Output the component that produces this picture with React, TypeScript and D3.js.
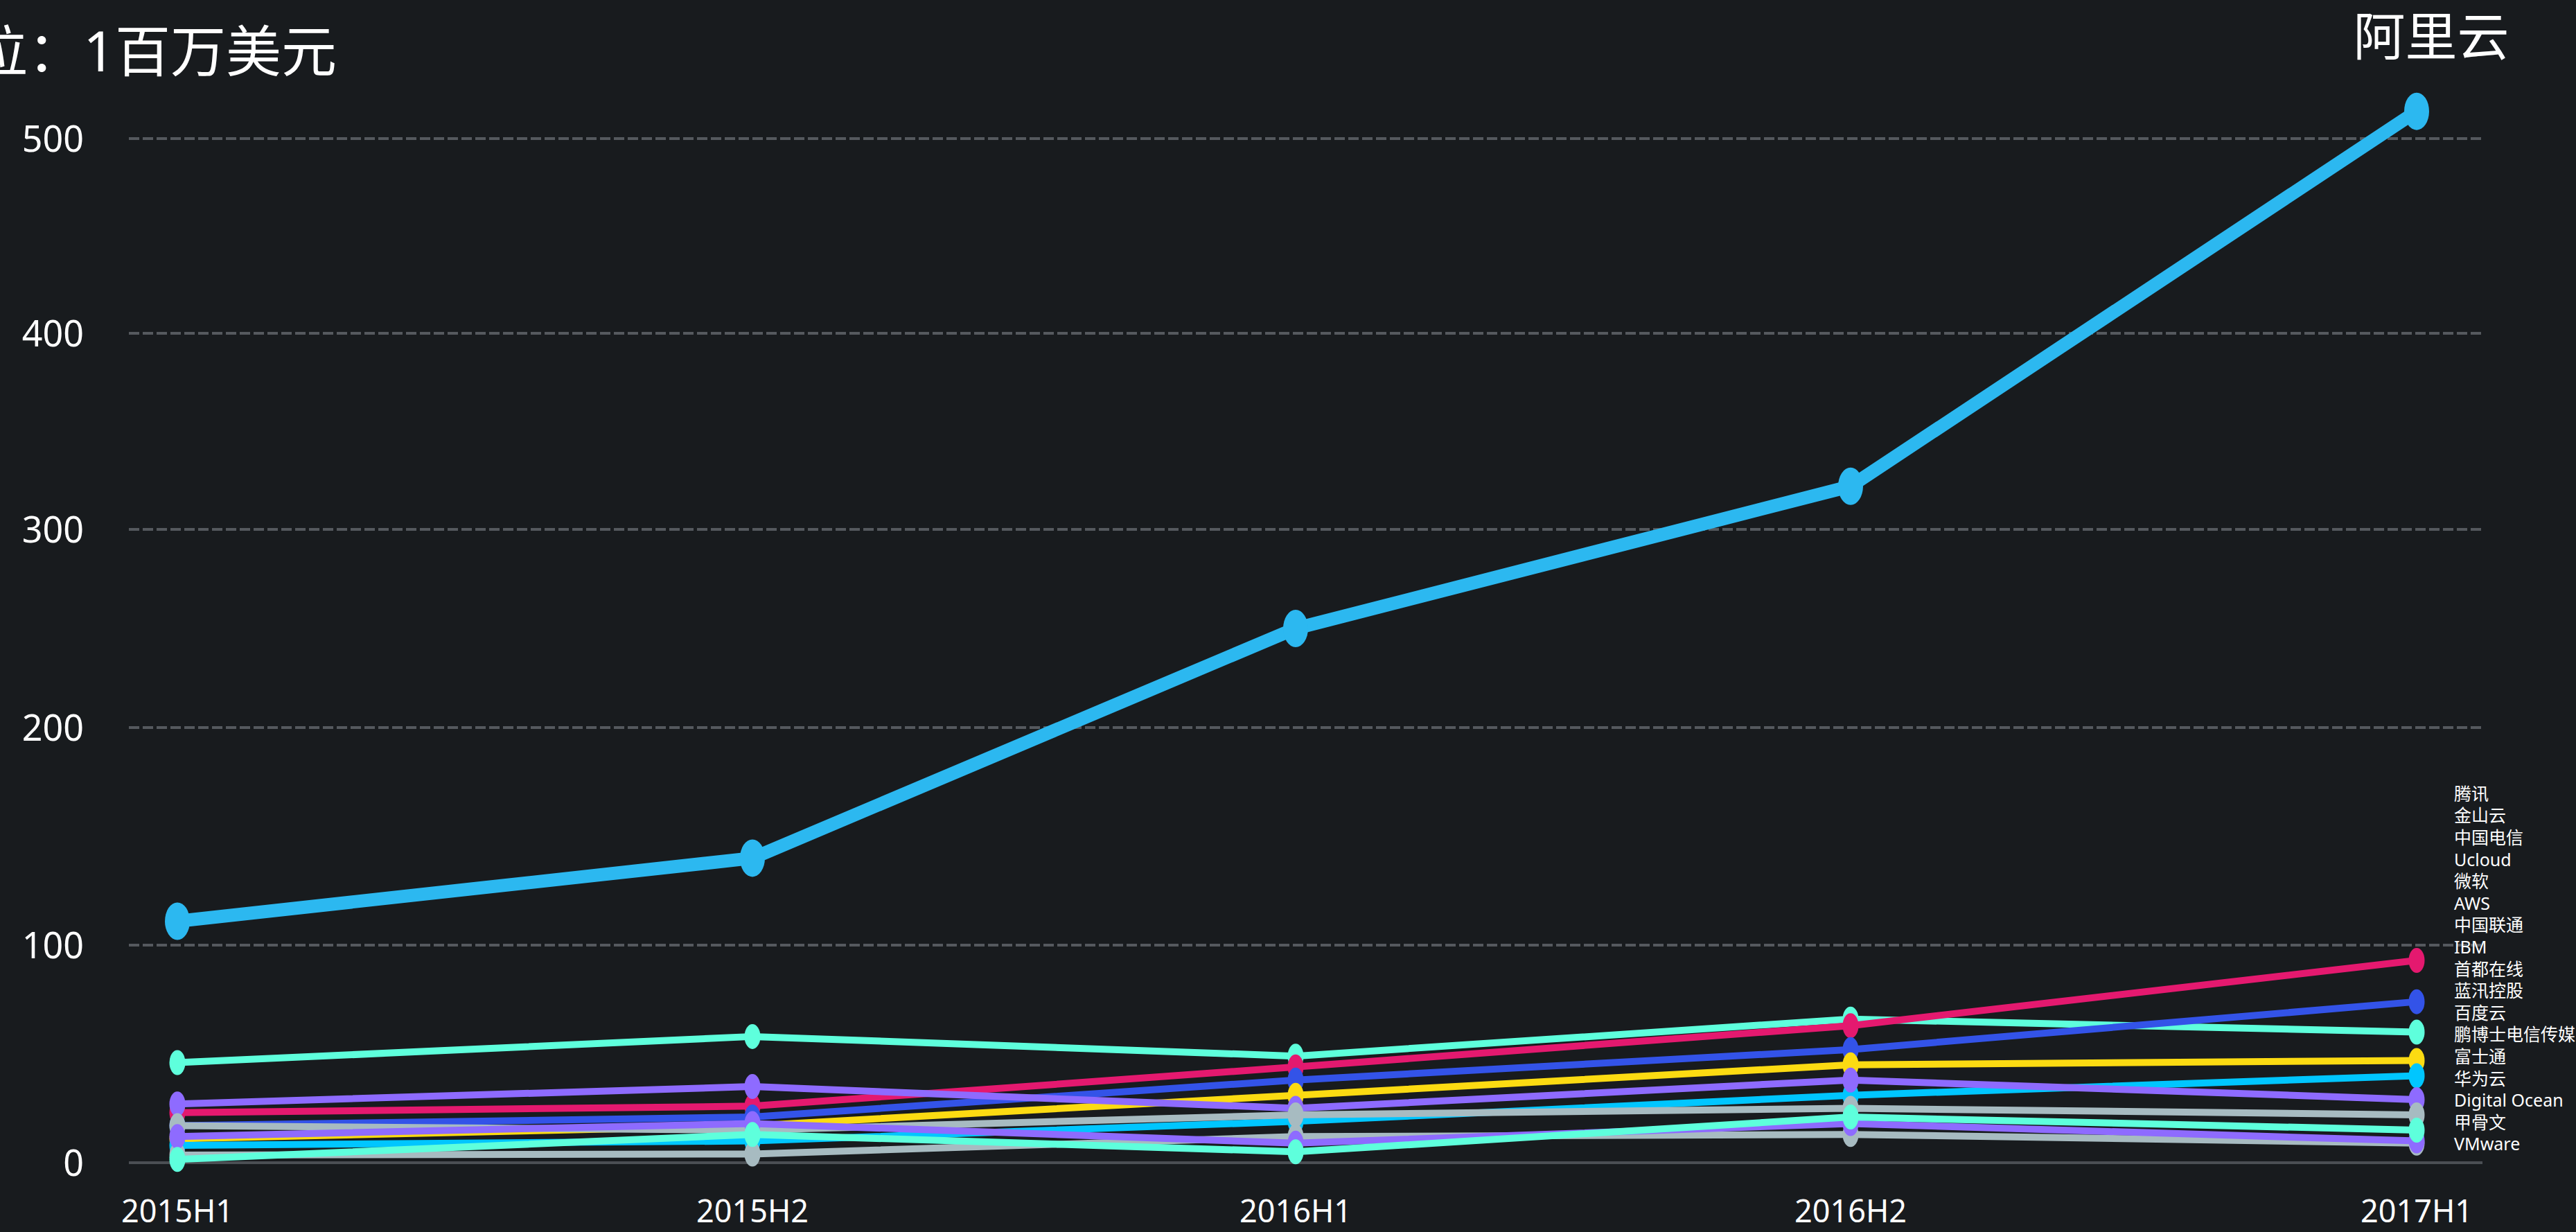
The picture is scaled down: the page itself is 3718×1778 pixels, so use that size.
import * as d3 from "d3";

const periods = ["2015H1", "2015H2", "2016H1", "2016H2", "2017H1"];
const yTicks = [0, 100, 200, 300, 400, 500];

// 阿里云 (thick line)
const aliyun = [111, 140, 250, 322, 514];

// other vendors, unit: 1 million USD
const tencent = [23, 26, 44, 63, 93];
const kingsoft = [17, 21, 38, 52, 74];
const chinaTelecom = [46, 58, 49, 66, 60];
const ucloud = [11, 17, 31, 45, 47];
const microsoft = [8, 10, 19, 31, 40];
const aws = [27, 35, 25, 38, 29];
const chinaUnicom = [17, 15, 22, 25, 22];
const ibm = [1.5, 13, 5, 21, 15];
const capitalOnline = [12, 18, 9, 18, 10];
const chinaCache = [3.5, 4, 12, 13, 9];

const legendNames = [
  "腾讯", "金山云", "中国电信", "Ucloud", "微软", "AWS", "中国联通", "IBM",
  "首都在线", "蓝汛控股", "百度云", "鹏博士电信传媒", "富士通", "华为云",
  "Digital Ocean", "甲骨文", "VMware",
];

// draw order (later on top)
const series = [
  { name: "中国电信", values: chinaTelecom, color: "#5effdc" },
  { name: "腾讯", values: tencent, color: "#e4196f" },
  { name: "金山云", values: kingsoft, color: "#3353e8" },
  { name: "Ucloud", values: ucloud, color: "#fcdb12" },
  { name: "微软", values: microsoft, color: "#00c6ff" },
  { name: "AWS", values: aws, color: "#8e6bff" },
  { name: "中国联通", values: chinaUnicom, color: "#a7bbc1" },
  { name: "蓝汛控股", values: chinaCache, color: "#a7bbc1" },
  { name: "首都在线", values: capitalOnline, color: "#8e6bff" },
  { name: "IBM", values: ibm, color: "#5effdc" },
];

const W = 3718;
const H = 1778;
const font = "'Noto Sans', 'Noto Sans CJK SC', sans-serif";

export default function App() {
  const x = d3
    .scaleLinear()
    .domain(periods.map((_, i) => i))
    .range([256, 1086, 1870, 2671, 3488]);
  const y = d3
    .scaleLinear()
    .domain(yTicks)
    .range([1678, 1364, 1050, 764, 481, 200]);

  const line = d3
    .line<number>()
    .x((_, i) => x(i))
    .y((d) => y(d));

  const gridX0 = 186;
  const gridX1 = 3583;

  return (
    <svg
      width={W}
      height={H}
      style={{ position: "absolute", left: 0, top: 0, background: "#181b1e" }}
      fontFamily={font}
    >
      <rect width={W} height={H} fill="#181b1e" />

      {/* grid */}
      {yTicks.map((t) => (
        <line
          key={t}
          x1={gridX0}
          x2={gridX1}
          y1={y(t)}
          y2={y(t)}
          stroke={t === 0 ? "#4b4f54" : "#55595e"}
          strokeWidth={4}
          strokeDasharray={t === 0 ? undefined : "15 5"}
        />
      ))}
      {yTicks.map((t) => (
        <text
          key={"l" + t}
          x={121}
          y={y(t)}
          dy="0.36em"
          textAnchor="end"
          fontSize={52}
          fill="#ffffff"
        >
          {t}
        </text>
      ))}
      {periods.map((p, i) => (
        <text key={p} x={x(i)} y={1764} textAnchor="middle" fontSize={45} fill="#ffffff">
          {p}
        </text>
      ))}

      {/* small vendors */}
      {series.map((s) => (
        <g key={s.name}>
          <path d={line(s.values) ?? ""} fill="none" stroke={s.color} strokeWidth={10} strokeLinejoin="round" />
          {s.values.map((v, i) => (
            <ellipse key={i} cx={x(i)} cy={y(v)} rx={11.5} ry={18} fill={s.color} />
          ))}
        </g>
      ))}

      {/* 阿里云 */}
      <g>
        <path d={line(aliyun) ?? ""} fill="none" stroke="#2cb8f0" strokeWidth={19} strokeLinejoin="round" />
        {aliyun.map((v, i) => (
          <ellipse key={i} cx={x(i)} cy={y(v)} rx={18} ry={27} fill="#2cb8f0" />
        ))}
      </g>
      <text x={x(periods.length - 1) + 21} y={80} textAnchor="middle" fontSize={75} fill="#ffffff">
        阿里云
      </text>

      {/* title */}
      <text x={486} y={103} textAnchor="end" fontSize={80} fill="#ffffff">
        单位：1百万美元
      </text>

      {/* legend */}
      {legendNames.map((n, i) => (
        <text key={n} x={3542} y={1146 + i * 31.6} dy="0.35em" fontSize={25} fill="#ffffff">
          {n}
        </text>
      ))}
    </svg>
  );
}
